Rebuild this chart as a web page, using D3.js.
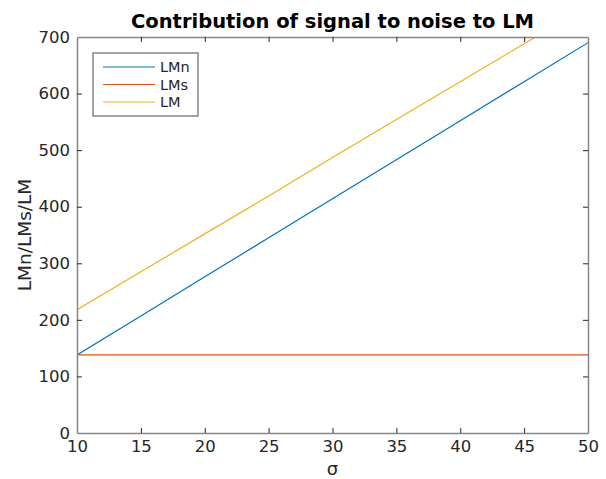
<!DOCTYPE html>
<html>
<head>
<meta charset="utf-8">
<script src="https://cdn.jsdelivr.net/npm/d3@7"></script>
<style>
  html, body { margin: 0; padding: 0; background: #fff; }
  svg { display: block; font-family: "DejaVu Sans", sans-serif; }
</style>
</head>
<body>
<svg id="chart" width="606" height="479"></svg>
<script>
// Noise level (σ) sampled along the x axis
const sigma = [10, 15, 20, 25, 30, 35, 40, 45, 50];
// Noise contribution
const lmn = [138, 207, 276, 345, 414, 483, 552, 621, 690];
// Signal contribution (constant)
const lms = [138, 138, 138, 138, 138, 138, 138, 138, 138];
// Total
const lm = [218, 285, 352, 419, 487, 554, 621, 688, 755];

const xTicks = [10, 15, 20, 25, 30, 35, 40, 45, 50];
const yTicks = [0, 100, 200, 300, 400, 500, 600, 700];

const seriesNames = ["LMn", "LMs", "LM"];
const seriesColors = ["#0072BD", "#D95319", "#EDB120"];
const seriesValues = [lmn, lms, lm];

const svg = d3.select("#chart");
const plot = { left: 77, right: 588, top: 37, bottom: 433 };

const x = d3.scaleLinear().domain([10, 50]).range([plot.left, plot.right]);
const y = d3.scaleLinear().domain([0, 700]).range([plot.bottom, plot.top]);

const axisColor = "#868686";
const textColor = "#262626";

svg.append("clipPath").attr("id", "plotClip")
  .append("rect")
  .attr("x", plot.left).attr("y", plot.top)
  .attr("width", plot.right - plot.left).attr("height", plot.bottom - plot.top);

// Series lines
const line = d3.line().x((d, i) => x(sigma[i])).y(d => y(d));
const lines = svg.append("g").attr("clip-path", "url(#plotClip)");
seriesValues.forEach((vals, k) => {
  lines.append("path")
    .datum(vals)
    .attr("d", line)
    .attr("fill", "none")
    .attr("stroke", seriesColors[k])
    .attr("stroke-width", 1.2);
});

// Axes: ticks pointing inward, box on all four sides
function styleAxis(g) {
  g.selectAll(".domain").attr("stroke", axisColor).attr("stroke-width", 1.5);
  g.selectAll(".tick line").attr("stroke", textColor).attr("stroke-width", 1);
  g.selectAll(".tick text").attr("fill", textColor).attr("font-size", 16.5)
    .attr("font-family", "DejaVu Sans, sans-serif");
}

const xAxis = svg.append("g")
  .attr("transform", `translate(0,${plot.bottom})`)
  .call(d3.axisBottom(x).tickValues(xTicks).tickFormat(d3.format("d"))
    .tickSizeInner(-5).tickSizeOuter(0).tickPadding(7));
styleAxis(xAxis);

const xAxisTop = svg.append("g")
  .attr("transform", `translate(0,${plot.top})`)
  .call(d3.axisTop(x).tickValues(xTicks).tickFormat("")
    .tickSizeInner(-5).tickSizeOuter(0));
styleAxis(xAxisTop);

const yAxis = svg.append("g")
  .attr("transform", `translate(${plot.left},0)`)
  .call(d3.axisLeft(y).tickValues(yTicks).tickFormat(d3.format("d"))
    .tickSizeInner(-5).tickSizeOuter(0).tickPadding(7));
styleAxis(yAxis);

const yAxisRight = svg.append("g")
  .attr("transform", `translate(${plot.right},0)`)
  .call(d3.axisRight(y).tickValues(yTicks).tickFormat("")
    .tickSizeInner(-5).tickSizeOuter(0));
styleAxis(yAxisRight);

// Hide tick marks sitting on the box corners
[xAxis, xAxisTop].forEach(g => g.selectAll(".tick line")
  .filter(d => d === 10 || d === 50).remove());
[yAxis, yAxisRight].forEach(g => g.selectAll(".tick line")
  .filter(d => d === 0 || d === 700).remove());

// Title
svg.append("text")
  .attr("x", (plot.left + plot.right) / 2)
  .attr("y", 28)
  .attr("text-anchor", "middle")
  .attr("font-size", 19.5)
  .attr("font-weight", "bold")
  .attr("fill", "#000")
  .text("Contribution of signal to noise to LM");

// Axis labels
svg.append("text")
  .attr("x", (plot.left + plot.right) / 2)
  .attr("y", 475)
  .attr("text-anchor", "middle")
  .attr("font-size", 18)
  .attr("fill", textColor)
  .text("σ");

svg.append("text")
  .attr("transform", `translate(31,${(plot.top + plot.bottom) / 2}) rotate(-90)`)
  .attr("text-anchor", "middle")
  .attr("font-size", 18.5)
  .attr("fill", textColor)
  .text("LMn/LMs/LM");

// Legend
const legend = svg.append("g");
legend.append("rect")
  .attr("x", 93).attr("y", 53).attr("width", 105).attr("height", 63)
  .attr("fill", "#fff").attr("stroke", axisColor).attr("stroke-width", 1.5);
seriesNames.forEach((name, k) => {
  const ly = 67 + k * 17.5;
  legend.append("line")
    .attr("x1", 103).attr("x2", 155).attr("y1", ly).attr("y2", ly)
    .attr("stroke", seriesColors[k]).attr("stroke-width", 1.2);
  legend.append("text")
    .attr("x", 160).attr("y", ly).attr("dy", "0.35em")
    .attr("font-size", 14.5).attr("fill", textColor)
    .text(name);
});
</script>
</body>
</html>
